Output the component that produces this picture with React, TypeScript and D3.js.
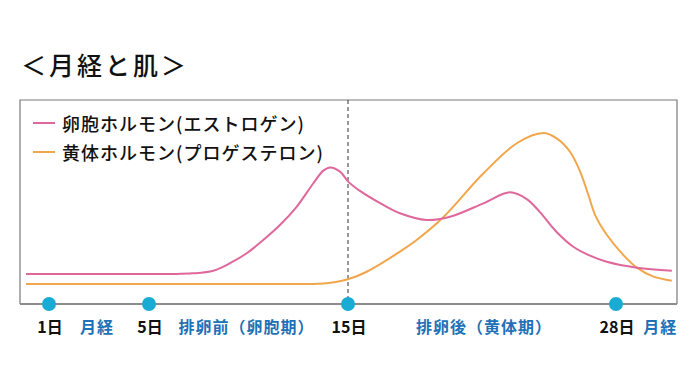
import React from "react";
import * as d3 from "d3";

const W = 700;
const H = 384;

// Day axis markers
const markerDays = [1, 5, 15, 28];
const ovulationDay = 15;

// Estrogen (卵胞ホルモン) — day / level
const estrogenDays = [0.08, 6.0, 7.2, 8.23, 9.07, 9.91, 10.74, 11.58, 12.42, 13.26, 13.76, 14.1, 14.6, 15.01, 15.58, 16.71, 17.52, 18.82, 19.95, 21.57, 22.86, 23.67, 24.31, 25.12, 25.93, 26.74, 27.55, 29.01, 30.71];
const estrogenLevels = [14.3, 14.3, 14.6, 15.9, 19.6, 24.5, 31.0, 38.4, 47.4, 59.0, 65.2, 66.8, 64.7, 59.8, 55.2, 48.3, 44.2, 40.9, 42.5, 49.1, 54.5, 51.2, 44.8, 35.0, 27.7, 23.3, 20.3, 17.4, 15.9];

// Progesterone (黄体ホルモン)
const progesteroneDays = [0.08, 12.5, 13.8, 15.03, 15.91, 17.52, 18.33, 19.62, 21.57, 23.19, 24.48, 25.12, 25.77, 26.26, 26.66, 26.99, 27.56, 28.36, 29.01, 29.82, 30.71];
const progesteroneLevels = [9.4, 9.4, 9.6, 11.8, 15.4, 25.3, 31.0, 42.2, 63.9, 78.7, 83.7, 81.1, 74.5, 64.7, 53.2, 43.3, 33.5, 23.6, 17.4, 13.0, 11.0];

// Bottom labels
const dayLabels = [
  { day: 1, text: "1日" },
  { day: 5, text: "5日" },
  { day: 15, text: "15日" },
  { day: 28, text: "28日" },
];
const phaseLabels = [
  { day: 2.92, text: "月経" },
  { day: 9.9, text: "排卵前（卵胞期）" },
  { day: 21.6, text: "排卵後（黄体期）" },
  { day: 30.15, text: "月経" },
];

const legendItems = [
  { text: "卵胞ホルモン(エストロゲン)", color: "#e0679c" },
  { text: "黄体ホルモン(プロゲステロン)", color: "#f2a64b" },
];

const title = "＜月経と肌＞";

const box = { left: 20, top: 100, right: 677, bottom: 304 };

export default function App() {
  const x = d3.scaleLinear().domain(markerDays).range([49, 149, 348, 616]);
  const y = d3.scaleLinear().domain([0, 100]).range([303, 100]);

  const line = d3
    .line<[number, number]>()
    .x((d) => x(d[0]))
    .y((d) => y(d[1]))
    .curve(d3.curveCatmullRom.alpha(0.5));

  const estro: [number, number][] = estrogenDays.map((d, i) => [d, estrogenLevels[i]]);
  const proge: [number, number][] = progesteroneDays.map((d, i) => [d, progesteroneLevels[i]]);

  const font = "'Noto Sans CJK JP', 'Noto Sans', sans-serif";

  return (
    <svg
      width={W}
      height={H}
      style={{ position: "absolute", left: 0, top: 0, background: "#fff" }}
      fontFamily={font}
    >
      <rect x={0} y={0} width={W} height={H} fill="#fff" />
      <text x={21} y={75} fontSize={25} fontWeight={500} fill="#111" letterSpacing={3}>
        {title}
      </text>

      {/* frame */}
      <path
        d={`M${box.left},${box.bottom} V${box.top} H${box.right} V${box.bottom}`}
        fill="none"
        stroke="#7a7a7a"
        strokeWidth={1.2}
      />
      <line x1={box.left} x2={box.right} y1={box.bottom} y2={box.bottom} stroke="#8c8c8c" strokeWidth={2} />

      {/* ovulation line */}
      <line
        x1={x(ovulationDay)}
        x2={x(ovulationDay)}
        y1={box.top}
        y2={box.bottom}
        stroke="#333"
        strokeWidth={1}
        strokeDasharray="4,3"
      />

      {/* curves */}
      <path d={line(proge) || ""} fill="none" stroke="#f2a64b" strokeWidth={2} />
      <path d={line(estro) || ""} fill="none" stroke="#e0679c" strokeWidth={2} />

      {/* legend */}
      {legendItems.map((it, i) => (
        <g key={it.text} transform={`translate(0, ${123 + i * 29})`}>
          <line x1={33} x2={55} y1={0} y2={0} stroke={it.color} strokeWidth={2} />
          <text x={62} y={0} dominantBaseline="central" fontSize={18} fontWeight={500} fill="#111" letterSpacing={1}>
            {it.text}
          </text>
        </g>
      ))}

      {/* markers */}
      {markerDays.map((d) => (
        <circle key={d} cx={x(d)} cy={304} r={7} fill="#1aabd5" />
      ))}

      {dayLabels.map((l) => (
        <text
          key={l.text}
          x={x(l.day) + 1}
          y={326}
          textAnchor="middle"
          dominantBaseline="central"
          fontSize={16}
          fontWeight="bold"
          fill="#111"
        >
          {l.text}
        </text>
      ))}
      {phaseLabels.map((l, i) => (
        <text
          key={i}
          x={x(l.day)}
          y={326}
          textAnchor="middle"
          dominantBaseline="central"
          fontSize={16}
          fontWeight="bold"
          fill="#1e71b6"
          letterSpacing={1}
        >
          {l.text}
        </text>
      ))}
    </svg>
  );
}
